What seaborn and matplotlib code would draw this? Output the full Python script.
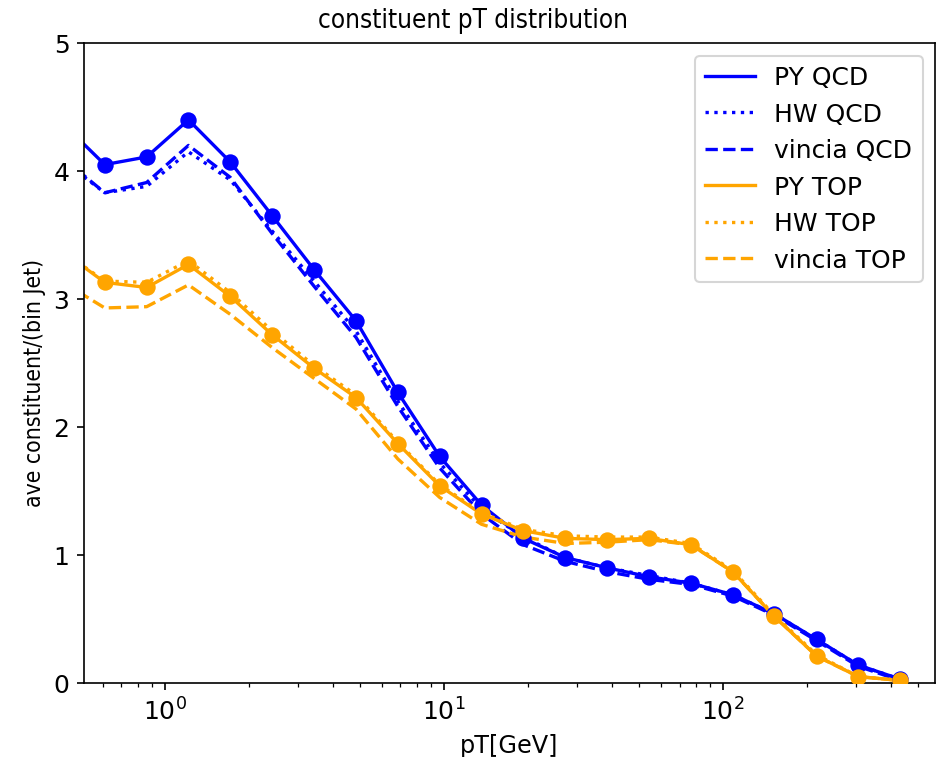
import matplotlib
matplotlib.use("Agg")
import matplotlib.pyplot as plt
import seaborn as sns
import pandas as pd

# bin centres (pT, GeV) -- first bin lies just left of the visible range
pt = [0.432, 0.61, 0.862, 1.217, 1.719, 2.43, 3.43, 4.85, 6.85, 9.67, 13.66,
      19.3, 27.3, 38.5, 54.4, 76.8, 108.5, 153.0, 217.0, 306.0, 432.0]

py_qcd = [4.37, 4.05, 4.11, 4.40, 4.07, 3.65, 3.23, 2.83, 2.27, 1.77, 1.39,
          1.13, 0.98, 0.90, 0.83, 0.78, 0.69, 0.54, 0.34, 0.14, 0.03]
hw_qcd = [4.08, 3.83, 3.88, 4.15, 3.93, 3.53, 3.14, 2.75, 2.20, 1.72, 1.36,
          1.14, 0.98, 0.90, 0.84, 0.78, 0.69, 0.54, 0.34, 0.14, 0.03]
vincia_qcd = [4.10, 3.83, 3.91, 4.20, 3.95, 3.51, 3.10, 2.70, 2.16, 1.68, 1.32,
              1.08, 0.95, 0.87, 0.81, 0.77, 0.68, 0.53, 0.33, 0.13, 0.02]
py_top = [3.37, 3.13, 3.09, 3.27, 3.02, 2.72, 2.46, 2.23, 1.87, 1.54, 1.32,
          1.19, 1.13, 1.12, 1.13, 1.08, 0.87, 0.52, 0.21, 0.05, 0.02]
hw_top = [3.37, 3.14, 3.13, 3.30, 3.05, 2.75, 2.48, 2.25, 1.88, 1.55, 1.33,
          1.20, 1.15, 1.14, 1.14, 1.09, 0.88, 0.53, 0.22, 0.05, 0.02]
vincia_top = [3.13, 2.93, 2.94, 3.11, 2.88, 2.62, 2.38, 2.14, 1.75, 1.45, 1.24,
              1.14, 1.09, 1.10, 1.12, 1.08, 0.87, 0.52, 0.21, 0.05, 0.02]

series_names = ["PY QCD", "HW QCD", "vincia QCD", "PY TOP", "HW TOP", "vincia TOP"]
series_vals = [py_qcd, hw_qcd, vincia_qcd, py_top, hw_top, vincia_top]
series_colors = ["blue", "blue", "blue", "orange", "orange", "orange"]
series_styles = ["-", ":", "--", "-", ":", "--"]

plt.rcParams["font.family"] = ["DejaVu Sans"]

fig = plt.figure(figsize=(6.24, 5.0533), dpi=150)
ax = fig.add_axes([84 / 936, 1 - 684 / 758, (935 - 84) / 936, (684 - 44) / 758])

for name, vals, col, ls in zip(series_names, series_vals, series_colors, series_styles):
    df = pd.DataFrame({"pT": pt, "val": vals})
    sns.lineplot(data=df, x="pT", y="val", ax=ax, color=col, linestyle=ls,
                 linewidth=1.6, label=name, sort=False)

for vals, col in [(py_qcd, "blue"), (py_top, "orange")]:
    df = pd.DataFrame({"pT": pt, "val": vals})
    sns.scatterplot(data=df, x="pT", y="val", ax=ax, color=col, s=62,
                    linewidth=0, legend=False, zorder=3)

ax.set_xscale("log")
ax.set_xlim(0.514, 576)
ax.set_ylim(0, 5)
ax.set_yticks([0, 1, 2, 3, 4, 5])
ax.tick_params(labelsize=12)
ax.set_xlabel("pT[GeV]", fontsize=11.5)
ax.set_ylabel("ave constituent/(bin Jet)", fontsize=11, fontstretch="condensed")
ax.yaxis.set_label_coords(-0.045, 0.47)
fig.text(473 / 936, 1 - 21 / 758, "constituent pT distribution", ha="center",
         va="center", fontsize=12.5, fontstretch="condensed")
ax.legend(loc="upper right", fontsize=12)

fig.savefig("out.png", dpi=150)
